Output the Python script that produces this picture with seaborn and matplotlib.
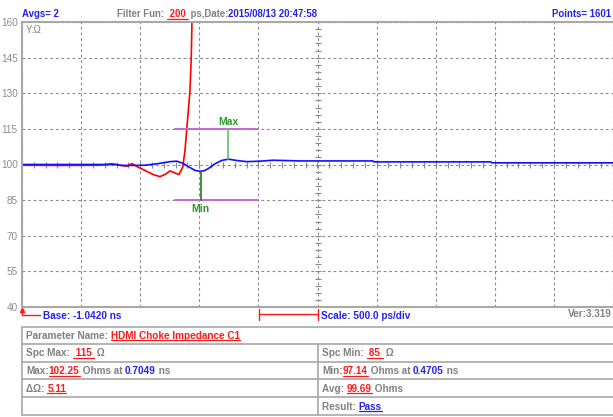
import numpy as np
import pandas as pd
import matplotlib
matplotlib.use("Agg")
import matplotlib.pyplot as plt
from matplotlib.lines import Line2D
import seaborn as sns

# TDR traces: time in ns, impedance in ohm
red_t = [-1.042, -0.720, -0.382, -0.281, -0.230, -0.154, -0.111, -0.061, -0.001,
         0.066, 0.125, 0.168, 0.210, 0.252, 0.286, 0.318, 0.337, 0.351, 0.365,
         0.379, 0.390, 0.396, 3.958]
red_z = [99.7, 99.6, 99.7, 100.3, 99.8, 99.3, 100.4, 98.9, 97.5,
         95.8, 94.9, 95.8, 97.3, 96.4, 95.8, 98.9, 105.9, 114.3, 122.7,
         131.0, 145.0, 160.0, 160.0]

blue_t = [-1.042, -0.50, -0.25, -0.20, -0.12, 0.00, 0.10, 0.21, 0.267, 0.320,
          0.362, 0.422, 0.4705, 0.50, 0.532, 0.591, 0.648, 0.7049, 0.774, 0.859,
          0.971, 1.081, 1.310, 1.927, 1.935, 2.926, 2.934, 3.958]
blue_z = [100.0, 100.0, 100.0, 99.6, 99.6, 99.7, 100.3, 101.2, 101.4, 100.5,
          99.2, 97.5, 97.14, 97.4, 98.2, 100.3, 101.7, 102.25, 101.7, 101.2,
          101.4, 101.8, 101.5, 101.5, 101.1, 101.1, 100.7, 100.7]

base_ns = -1.0420
div_ns = 0.5
y_ticks = [40, 55, 70, 85, 100, 115, 130, 145, 160]
spc_max, spc_min = 115, 85
spc_t = [0.25, 0.95]
max_t, max_z = 0.7049, 102.25
min_t, min_z = 0.4705, 97.14

GRAY = '#808080'
BLUE = '#2222ee'
RED = '#ff1a1a'
LINE = '#a8a8a8'

sns.set_style("white")
plt.rcParams['font.family'] = ['Liberation Sans', 'DejaVu Sans']

W, H = 613, 417
fig = plt.figure(figsize=(W / 100, H / 100), dpi=100)
ax = fig.add_axes([22 / W, 1 - 307 / H, 591 / W, 285 / H])

x_grid = [base_ns + k * div_ns for k in range(11)]
ax.set_xlim(x_grid[0], x_grid[-1])
ax.set_ylim(40, 160)
ax.set_xticks(x_grid)
ax.set_yticks(y_ticks)
ax.set_xticklabels([])
ax.tick_params(axis='y', length=2, color=LINE, labelsize=7.2, labelcolor='#8c8c8c', pad=1)
ax.tick_params(axis='x', length=0)
ax.grid(True, color='#8a8a8a', lw=0.8, ls=(0, (2.5, 2.5)))
for s in ['left', 'bottom', 'top']:
    ax.spines[s].set_color(LINE)
    ax.spines[s].set_linewidth(1.5)
ax.spines['right'].set_visible(False)

# crosshair minor ticks on centre lines
xc = x_grid[5]
ax.plot(np.full(41, xc), np.arange(40, 161, 3), ls='none', marker='_', ms=4, mew=0.8, color='#8a8a8a')
ax.plot(np.arange(x_grid[0], x_grid[-1] + 1e-6, 0.1), np.full(51, 100), ls='none',
        marker='|', ms=4, mew=0.8, color='#8a8a8a')

sns.lineplot(x=red_t, y=red_z, ax=ax, color='#ff0000', lw=1.2, sort=False, estimator=None)
ax.lines[-1].set_clip_on(False)
sns.lineplot(x=blue_t, y=blue_z, ax=ax, color='#1010ff', lw=1.2, sort=False, estimator=None)

# spec limits and min/max markers
ax.plot(spc_t, [spc_max, spc_max], color='#c070c8', lw=1.5)
ax.plot(spc_t, [spc_min, spc_min], color='#c070c8', lw=1.5)
ax.plot([max_t, max_t], [max_z, spc_max], color='#70b870', lw=1.2)
ax.plot([min_t, min_t], [spc_min, min_z], color='#207a20', lw=1.2)
ax.text(max_t, spc_max + 0.6, 'Max', color='#2a9a2a', fontsize=7.5, fontweight='bold',
        ha='center', va='bottom')
ax.text(min_t, spc_min - 1.5, 'Min', color='#2a9a2a', fontsize=7.5, fontweight='bold',
        ha='center', va='top')
ax.text(0.006, 0.99, 'Y:Ω', transform=ax.transAxes, color=GRAY, fontsize=7, va='top')

renderer = fig.canvas.get_renderer()


def fx(x):
    return x / W


def fy(y):
    return 1 - y / H


def seg(x0, x1, y0, y1, color=LINE, lw=1.0):
    fig.add_artist(Line2D([fx(x0), fx(x1)], [fy(y0), fy(y1)], color=color, lw=lw))


def width_of(s, size):
    a = fig.text(0, 0, '|' + s + '|', fontsize=size, fontweight='bold')
    b = fig.text(0, 0, '||', fontsize=size, fontweight='bold')
    w = a.get_window_extent(renderer).width - b.get_window_extent(renderer).width
    a.remove()
    b.remove()
    return w


def rich(x, y, parts, size=7.2, right=False):
    if right:
        x -= sum(width_of(p[0], size) for p in parts)
    cx = x
    for s, c, ul in parts:
        fig.text(fx(cx), fy(y), s, color=c, fontsize=size, fontweight='bold', va='baseline')
        w = width_of(s, size)
        if ul:
            seg(cx, cx + w, y + 1.5, y + 1.5, color=c, lw=0.9)
        cx += w


# header
rich(22, 17, [('Avgs= 2', BLUE, False)], size=6.9)
rich(117, 17, [('Filter Fun: ', GRAY, False), (' 200 ', RED, True), (' ps,Date:', GRAY, False),
               ('2015/08/13 20:47:58', BLUE, False)], size=6.9)
rich(611, 17, [('Points= 1601', BLUE, False)], size=6.9, right=True)

# base marker and scale bar
seg(22, 22, 315, 309, color=RED, lw=1)
fig.add_artist(Line2D([fx(22)], [fy(310)], marker='^', ms=3, color=RED))
seg(22, 40, 315, 315, color=RED, lw=1)
rich(43, 319, [('Base: -1.0420 ns', BLUE, False)])
seg(259, 318, 314, 314, color=RED, lw=1)
seg(259, 259, 309, 320, color=RED, lw=1)
seg(318, 318, 309, 320, color=RED, lw=1)
rich(321, 319, [('Scale: 500.0 ps/div', BLUE, False)])
rich(612, 317, [('Ver:3.319', GRAY, False)], right=True)

# results table
rows = [326.7, 344, 361.7, 379.3, 397.3, 415]
for y in rows:
    seg(22, 613, y, y, lw=1.2)
seg(22, 22, rows[0], rows[-1], lw=1.2)
seg(318, 318, rows[1], rows[-1], lw=1.2)

left_cells = [
    [('Parameter Name: ', GRAY, False), ('HDMI Choke Impedance C1', RED, True)],
    [('Spc Max: ', GRAY, False), (' 115 ', RED, True), (' Ω', GRAY, False)],
    [('Max:', GRAY, False), ('102.25', RED, True), (' Ohms at ', GRAY, False),
     ('0.7049', BLUE, False), (' ns', GRAY, False)],
    [('ΔΩ: ', GRAY, False), ('5.11', RED, True)],
    [],
]
right_cells = [
    [],
    [('Spc Min: ', GRAY, False), (' 85 ', RED, True), (' Ω', GRAY, False)],
    [('Min:', GRAY, False), ('97.14', RED, True), (' Ohms at ', GRAY, False),
     ('0.4705', BLUE, False), (' ns', GRAY, False)],
    [('Avg: ', GRAY, False), ('99.69', RED, True), (' Ohms', GRAY, False)],
    [('Result: ', GRAY, False), ('Pass', BLUE, True)],
]
for i in range(5):
    base = (rows[i] + rows[i + 1]) / 2 + 3.5
    if left_cells[i]:
        rich(26, base, left_cells[i])
    if right_cells[i]:
        rich(322, base, right_cells[i])

fig.savefig('out.png', dpi=100)
